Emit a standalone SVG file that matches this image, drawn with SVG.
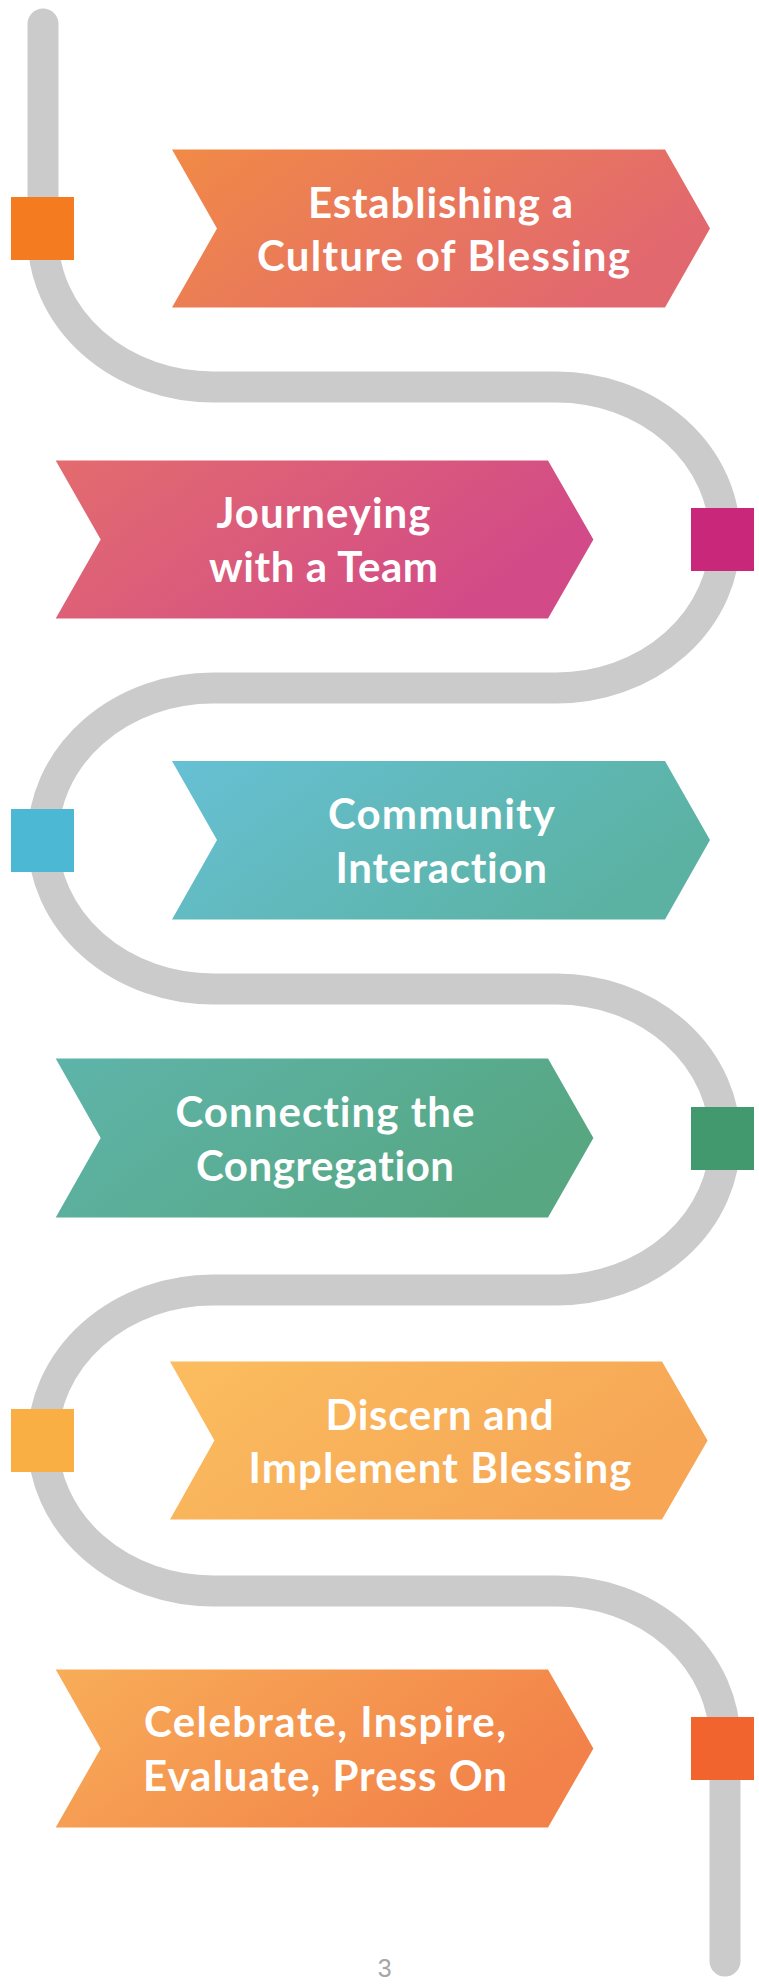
<svg xmlns="http://www.w3.org/2000/svg" width="759" height="1986" viewBox="0 0 759 1986">
<defs>
<linearGradient id="g1" x1="0" y1="0" x2="1" y2="0.4"><stop offset="0" stop-color="#F18A46"/><stop offset="1" stop-color="#E2686F"/></linearGradient>
<linearGradient id="g2" x1="0" y1="0" x2="1" y2="0.4"><stop offset="0" stop-color="#E36C6E"/><stop offset="1" stop-color="#D24A88"/></linearGradient>
<linearGradient id="g3" x1="0" y1="0" x2="1" y2="0.4"><stop offset="0" stop-color="#67C0D4"/><stop offset="1" stop-color="#5BB2A3"/></linearGradient>
<linearGradient id="g4" x1="0" y1="0" x2="1" y2="0.4"><stop offset="0" stop-color="#5EB4AA"/><stop offset="1" stop-color="#57A783"/></linearGradient>
<linearGradient id="g5" x1="0" y1="0" x2="1" y2="0.4"><stop offset="0" stop-color="#FBBD5F"/><stop offset="1" stop-color="#F6A655"/></linearGradient>
<linearGradient id="g6" x1="0" y1="0" x2="1" y2="0.4"><stop offset="0" stop-color="#F8AD58"/><stop offset="1" stop-color="#F28249"/></linearGradient>
</defs>
<style>
.path{fill:none;stroke:#CBCBCB;stroke-width:31;stroke-linecap:round}
.lbl{font-family:Lato,"Open Sans",sans-serif;font-weight:700;font-size:42px;fill:#FFFFFF;font-variant-ligatures:none;font-feature-settings:"liga" 0,"clig" 0}
.pg{font-family:"Liberation Sans",Arial,sans-serif;font-size:25px;fill:#A6A6A6}
</style>
<rect width="759" height="1986" fill="#FFFFFF"/>
<g id="connectors">
<path class="path" d="M 43 24 V 236.5 A 170 150.5 0 0 0 213 387 H 556.6 A 168.4 150.5 0 0 1 556.6 688 H 213 A 170 150.5 0 0 0 213 989 H 556.6 A 168.4 150.5 0 0 1 556.6 1290 H 213 A 170 150.5 0 0 0 213 1591 H 556.6 A 168.4 150.5 0 0 1 725 1741.5 V 1961"/>
</g>
<g id="step1">
<rect x="11" y="197" width="63" height="63" fill="#F47B20"/>
<polygon points="172,149.5 665,149.5 710,228.5 665,307.5 172,307.5 217,228.5" fill="url(#g1)"/>
<text class="lbl" x="308" y="217.5" textLength="265" lengthAdjust="spacing">Establishing a</text>
<text class="lbl" x="257" y="270.5" textLength="373" lengthAdjust="spacing">Culture of Blessing</text>
</g>
<g id="step2">
<rect x="691" y="508" width="63" height="63" fill="#C9287A"/>
<polygon points="55.7,460.5 548,460.5 593.4,539.5 548,618.5 55.7,618.5 100.7,539.5" fill="url(#g2)"/>
<text class="lbl" x="216.5" y="527.5" textLength="214" lengthAdjust="spacing">Journeying</text>
<text class="lbl" x="209" y="581.5" textLength="229" lengthAdjust="spacing">with a Team</text>
</g>
<g id="step3">
<rect x="11" y="809" width="63" height="63" fill="#4DB8D4"/>
<polygon points="172,761 665,761 710,840 665,919.5 172,919.5 217,840" fill="url(#g3)"/>
<text class="lbl" x="328" y="829" textLength="227" lengthAdjust="spacing">Community</text>
<text class="lbl" x="335.5" y="882.5" textLength="211.5" lengthAdjust="spacing">Interaction</text>
</g>
<g id="step4">
<rect x="691" y="1107" width="63" height="63" fill="#43996E"/>
<polygon points="55.7,1058.5 548,1058.5 593.4,1138 548,1217.5 55.7,1217.5 100.7,1138" fill="url(#g4)"/>
<text class="lbl" x="175.5" y="1126.5" textLength="299" lengthAdjust="spacing">Connecting the</text>
<text class="lbl" x="196" y="1180.5" textLength="258" lengthAdjust="spacing">Congregation</text>
</g>
<g id="step5">
<rect x="11" y="1409" width="63" height="63" fill="#F9AF43"/>
<polygon points="170,1361.5 662,1361.5 707.6,1440.5 662,1519.5 170,1519.5 214.4,1440.5" fill="url(#g5)"/>
<text class="lbl" x="325.5" y="1429.5" textLength="228" lengthAdjust="spacing">Discern and</text>
<text class="lbl" x="248.5" y="1482.5" textLength="383" lengthAdjust="spacing">Implement Blessing</text>
</g>
<g id="step6">
<rect x="691" y="1717" width="63" height="63" fill="#F1642D"/>
<polygon points="55.7,1669.5 548,1669.5 593.4,1748.5 548,1827.5 55.7,1827.5 100.7,1748.5" fill="url(#g6)"/>
<text class="lbl" x="144" y="1736.5" textLength="362" lengthAdjust="spacing">Celebrate, Inspire,</text>
<text class="lbl" x="143" y="1790.5" textLength="364" lengthAdjust="spacing">Evaluate, Press On</text>
</g>
<g id="page-number">
<text class="pg" x="384.7" y="1977" text-anchor="middle">3</text>
</g>
</svg>
